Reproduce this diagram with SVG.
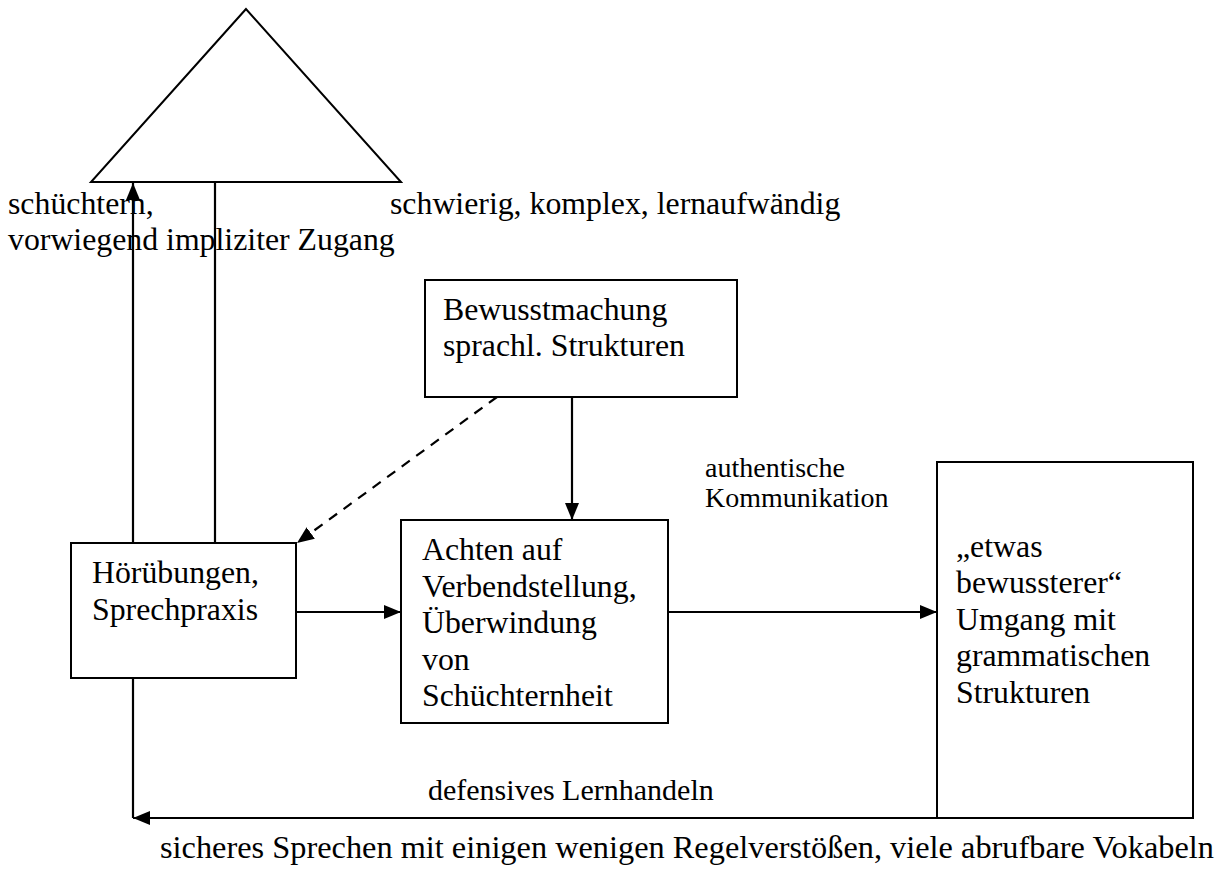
<svg xmlns="http://www.w3.org/2000/svg" width="1228" height="876" viewBox="0 0 1228 876">
  <style>
    .box { fill: #fff; stroke: #000; stroke-width: 2; }
    .ln { fill: none; stroke: #000; stroke-width: 2.2; }
    .dash { fill: none; stroke: #000; stroke-width: 2.2; stroke-dasharray: 10 8; }
    text { font-family: "Liberation Serif", "Times New Roman", serif; font-size: 31.8px; fill: #000; }
    .small { font-size: 28px; }
    .mid { font-size: 30px; }
  </style>
  <defs>
    <marker id="arrow" markerUnits="userSpaceOnUse" markerWidth="18" markerHeight="16" refX="17" refY="8" orient="auto">
      <path d="M0,1 L17,8 L0,15 Z" fill="#000"/>
    </marker>
  </defs>

  <!-- triangle with its two side captions -->
  <g id="triangle">
    <polygon points="246,9 91,182 401,182" fill="#fff" stroke="#000" stroke-width="2"/>
  </g>
  <g id="label-left">
    <text x="8" y="214">schüchtern,</text>
    <text x="8" y="250">vorwiegend impliziter Zugang</text>
  </g>
  <g id="label-right">
    <text x="390" y="214">schwierig, komplex, lernaufwändig</text>
  </g>

  <!-- boxes -->
  <g id="bewusstmachung">
    <rect class="box" x="425" y="280" width="312" height="117"/>
    <text x="443" y="320">Bewusstmachung</text>
    <text x="443" y="356">sprachl. Strukturen</text>
  </g>
  <g id="hoeruebungen">
    <rect class="box" x="71" y="543" width="225" height="135"/>
    <text x="92" y="583">Hörübungen,</text>
    <text x="92" y="620">Sprechpraxis</text>
  </g>
  <g id="achten">
    <rect class="box" x="401" y="520" width="267" height="203"/>
    <text x="422" y="560">Achten auf</text>
    <text x="422" y="597">Verbendstellung,</text>
    <text x="422" y="633">Überwindung</text>
    <text x="422" y="670">von</text>
    <text x="422" y="706">Schüchternheit</text>
  </g>
  <g id="umgang">
    <rect class="box" x="937" y="462" width="256" height="356"/>
    <text x="956" y="557">„etwas</text>
    <text x="956" y="593">bewussterer“</text>
    <text x="956" y="630">Umgang mit</text>
    <text x="956" y="666">grammatischen</text>
    <text x="956" y="703">Strukturen</text>
  </g>

  <!-- connectors -->
  <g id="connectors">
    <line class="ln" x1="133" y1="543" x2="133" y2="183" marker-end="url(#arrow)"/>
    <line class="ln" x1="215" y1="543" x2="215" y2="182"/>
    <line class="dash" x1="497" y1="397" x2="297" y2="543" marker-end="url(#arrow)"/>
    <line class="ln" x1="572" y1="397" x2="572" y2="520" marker-end="url(#arrow)"/>
    <line class="ln" x1="296" y1="612" x2="401" y2="612" marker-end="url(#arrow)"/>
    <line class="ln" x1="668" y1="612" x2="937" y2="612" marker-end="url(#arrow)"/>
    <polyline class="ln" points="133,678 133,818"/>
    <line class="ln" x1="937" y1="818" x2="133" y2="818" marker-end="url(#arrow)"/>
    <text class="small" x="705" y="477">authentische</text>
    <text class="small" x="705" y="507">Kommunikation</text>
    <text class="mid" x="428" y="800">defensives Lernhandeln</text>
  </g>

  <g id="caption-bottom">
    <text x="160" y="858" textLength="1054" lengthAdjust="spacingAndGlyphs">sicheres Sprechen mit einigen wenigen Regelverstößen, viele abrufbare Vokabeln</text>
  </g>
</svg>
